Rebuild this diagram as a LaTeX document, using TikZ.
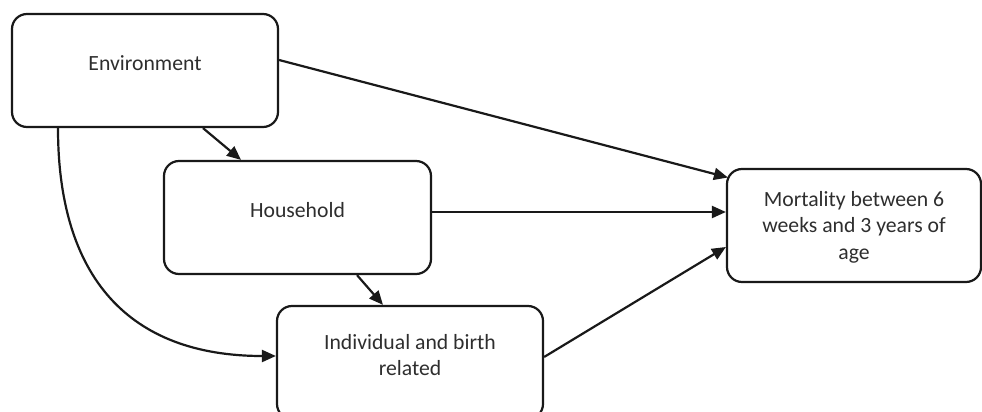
\documentclass[tikz,border=0pt]{standalone}
\usepackage{fontspec}
\setmainfont{Carlito}
\usetikzlibrary{arrows.meta}
\begin{document}
\begin{tikzpicture}[x=1pt,y=-1pt,
  box/.style={draw=black!90,line width=2.2pt,rounded corners=15pt,minimum width=#1,minimum height=113pt,inner sep=0pt},
  txt/.style={text=black!82,align=center,font=\fontsize{21.7}{26.5}\selectfont},
  arr/.style={draw=black!90,line width=2.2pt,-{Triangle[length=14pt,width=12pt]}}]
\useasboundingbox (0,0) rectangle (982,412);
\clip (0,0) rectangle (982,412);
\node[box=266pt] (env) at (145,70.5) {};
\node[box=267pt] (hh) at (297.5,217.5) {};
\node[box=266pt] (ind) at (410,362.5) {};
\node[box=254pt] (mort) at (854,225.5) {};
\node[txt] (envt) at (145,63) {Environment};
\node[txt] (hht) at (297.5,210) {Household};
\node[txt] (indt) at (410,355) {Individual and birth\\related};
\node[txt] (mortt) at (854,227) {Mortality between 6\\weeks and 3 years of\\age};
\draw[arr] ([yshift=10.5pt]env.east) -- ([xshift=2pt,yshift=48pt]mort.west);
\draw[arr] ([xshift=58pt]env.south) -- ([xshift=-56.5pt]hh.north);
\draw[arr] ([yshift=5.5pt]hh.east) -- ([yshift=13.5pt]mort.west);
\draw[arr] ([xshift=59.5pt]hh.south) -- ([xshift=-27pt]ind.north);
\draw[arr] ([xshift=-87pt]env.south) to[out=-90,in=180,looseness=1.2] ([yshift=6.5pt]ind.west);
\draw[arr] ([yshift=5.5pt]ind.east) -- ([yshift=-21.5pt]mort.west);
\end{tikzpicture}
\end{document}
